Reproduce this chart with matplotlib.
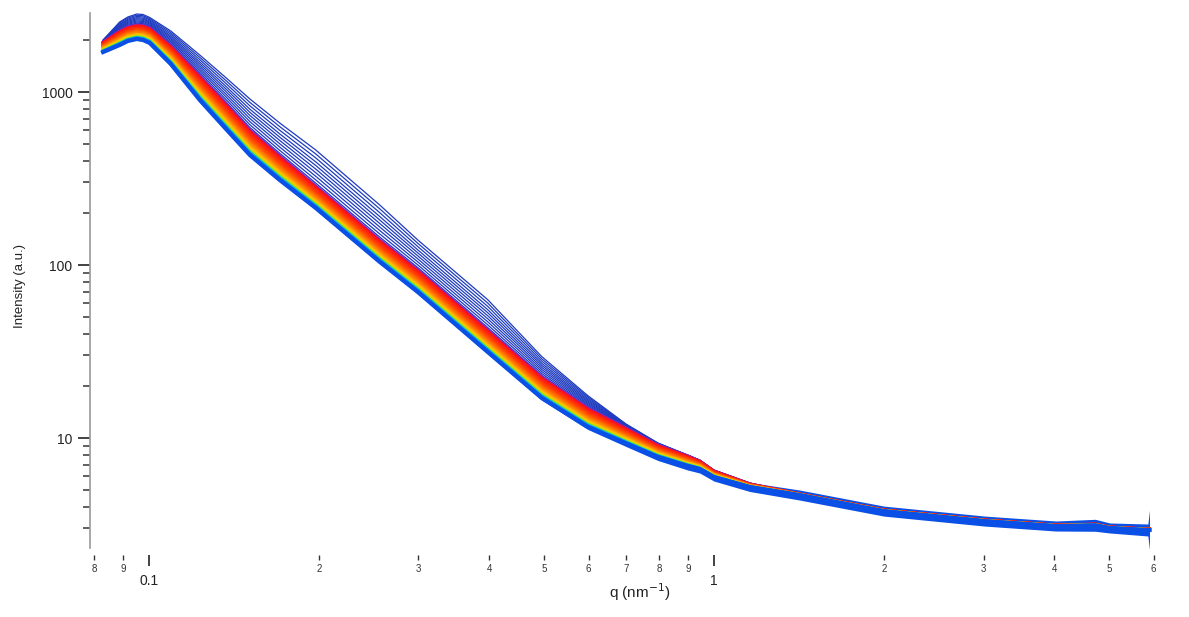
import numpy as np
import matplotlib.pyplot as plt
from matplotlib.colors import LinearSegmentedColormap
from matplotlib.ticker import FixedLocator, FuncFormatter, NullFormatter

plt.rcParams['font.family'] = ['Liberation Sans', 'DejaVu Sans']

# scattering vector (nm^-1), anchor points
q = np.array([0.083, 0.0888, 0.0918, 0.0952, 0.0977, 0.1004, 0.1094, 0.1231, 0.1365,
              0.151, 0.1705, 0.1975, 0.2564, 0.2993, 0.398, 0.4962, 0.598, 0.699,
              0.796, 0.899, 0.944, 1.0, 1.158, 1.419, 2.0, 3.017, 4.03, 4.73, 5.02,
              5.86, 5.9])

# lowest curve of the set (a.u.)
i_bottom = np.array([1703, 1870, 1972, 2025, 1998, 1920, 1451, 899, 619, 432, 310,
                     213.5, 104.1, 69.8, 31.4, 17.0, 11.6, 9.3, 7.77, 6.89, 6.62,
                     5.95, 5.21, 4.68, 3.78, 3.31, 3.10, 3.13, 3.02, 2.94, 2.94])
# upper edge of the dense red/orange bundle
i_band_top = np.array([1945, 2252, 2375, 2440, 2424, 2344, 1845, 1237, 864, 603, 427,
                       286, 139.5, 93.6, 42.1, 22.5, 14.91, 11.42, 9.11, 7.87, 7.36,
                       6.45, 5.42, 4.75, 3.84, 3.36, 3.14, 3.18, 3.06, 2.98, 2.98])
# highest curve (first frames, blue)
i_top = np.array([1998, 2539, 2714, 2824, 2805, 2696, 2252, 1636, 1221, 911, 662,
                  462, 222, 139.5, 63.0, 29.5, 17.6, 12.05, 9.36, 7.97, 7.46,
                  6.53, 5.50, 4.75, 3.84, 3.36, 3.14, 3.18, 3.06, 2.98, 2.98])
# relative scatter of the noisy data around the curves
noise = np.array([1, 1, 1, 1, 1, 1, 1, 1, 1, 1, 1,
                  1.006, 1.013, 1.013, 1.02, 1.027, 1.034, 1.041, 1.048, 1.055,
                  1.055, 1.055, 1.062, 1.069, 1.069, 1.069, 1.069, 1.083, 1.069,
                  1.083, 1.3])

# where each curve sits inside its bundle (1 = upper edge, 0 = lower edge)
upper_pos = [1.0, 0.89, 0.78, 0.67, 0.57, 0.47, 0.37, 0.27, 0.17, 0.08]
band_pos = [1.0, 0.94, 0.88, 0.82, 0.76, 0.70, 0.64, 0.58, 0.52, 0.46, 0.40,
            0.34, 0.28, 0.22, 0.17, 0.12, 0.08, 0.04, 0.0]

x_major = [0.1, 1]
x_major_labels = ['0.1', '1']
x_minor = [0.08, 0.09, 0.2, 0.3, 0.4, 0.5, 0.6, 0.7, 0.8, 0.9, 2, 3, 4, 5, 6]
y_major = [10, 100, 1000]
y_minor = [3, 4, 5, 6, 7, 8, 9, 20, 30, 40, 50, 60, 70, 80, 90,
           200, 300, 400, 500, 600, 700, 800, 900, 2000]

rainbow = LinearSegmentedColormap.from_list('frames', [
    (0.0, '#7a2ad0'), (0.06, '#ff0a1e'), (0.35, '#ff4400'), (0.6, '#ff8c00'),
    (0.75, '#ffcc00'), (0.83, '#a8e000'), (0.88, '#20d0a0'), (0.93, '#0096ff'),
    (1.0, '#0a50e6')])

fig = plt.figure(figsize=(11.89, 6.17), dpi=100)
ax = fig.add_axes([0.0757, 0.1118, 0.9243, 0.8671])

log_b = np.log10(i_bottom)
log_r = np.log10(i_band_top)
log_t = np.log10(i_top)

for p in upper_pos:
    ax.plot(q, 10 ** (log_r + p * (log_t - log_r)), color='#1f3cc0', lw=0.9)

for p in band_pos:
    ax.plot(q, 10 ** (log_b + p * (log_r - log_b)), color=rainbow(1 - p), lw=2.2)

ax.fill_between(q, i_bottom / noise, i_bottom * noise, color='#0a50e6', lw=0)
ax.plot(q, i_bottom, color='#0a50e6', lw=3)

ax.set_xscale('log')
ax.set_yscale('log')
ax.set_xlim(0.0787, 6.93)
ax.set_ylim(2.313, 2862)

ax.xaxis.set_major_locator(FixedLocator(x_major))
ax.xaxis.set_major_formatter(FuncFormatter(lambda v, pos: x_major_labels[x_major.index(v)] if v in x_major else ''))
ax.xaxis.set_minor_locator(FixedLocator(x_minor))
ax.xaxis.set_minor_formatter(FuncFormatter(lambda v, pos: str(int(round(v / 10 ** np.floor(np.log10(v)))))))
ax.yaxis.set_major_locator(FixedLocator(y_major))
ax.yaxis.set_major_formatter(FuncFormatter(lambda v, pos: f'{v:g}'))
ax.yaxis.set_minor_locator(FixedLocator(y_minor))
ax.yaxis.set_minor_formatter(NullFormatter())

for side in ['top', 'right', 'bottom']:
    ax.spines[side].set_visible(False)
ax.spines['bottom'].set_position(('outward', 5))
ax.spines['left'].set_color('#9a9a9a')
ax.spines['left'].set_linewidth(1.2)

ax.tick_params(axis='x', which='major', direction='out', length=8, width=1.2,
               pad=6, labelsize=10, color='#222222', labelcolor='#222222')
ax.tick_params(axis='x', which='minor', direction='out', length=3.6, width=1,
               pad=3, labelsize=7, color='#333333', labelcolor='#333333')
ax.tick_params(axis='y', which='major', direction='out', length=8.6, width=1.2,
               pad=4, labelsize=10, color='#222222', labelcolor='#222222')
ax.tick_params(axis='y', which='minor', direction='out', length=5, width=1.2,
               color='#444444')

ax.set_xlabel(r'q (nm$^{-1}$)', fontsize=11, color='#222222')
ax.xaxis.set_label_coords(0.5, -0.062)
ax.set_ylabel('Intensity (a.u.)', fontsize=9.5, color='#222222')
ax.yaxis.set_label_coords(-0.058, 0.49)

fig.savefig('out.png', dpi=100)
